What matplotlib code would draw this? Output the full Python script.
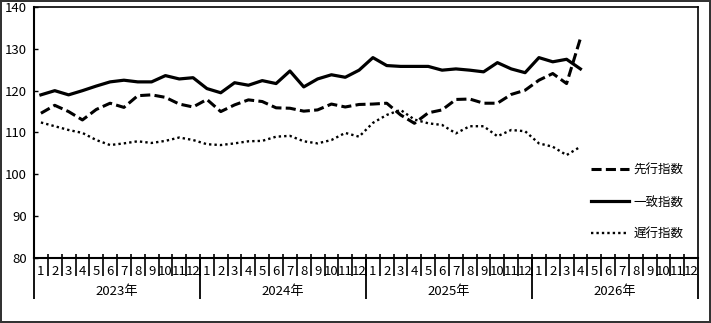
import matplotlib
matplotlib.use("Agg")
import matplotlib.pyplot as plt
import numpy as np

plt.rcParams['font.family'] = ['Liberation Sans Narrow', 'Noto Sans CJK JP', 'DejaVu Sans']

# 2023年1月 ～ 2026年4月
years = ["2023年", "2024年", "2025年", "2026年"]
months = [str(m) for m in range(1, 13)]

leading = [114.6, 116.5, 115.0, 113.0, 115.5, 117.0, 116.0, 118.8, 119.0, 118.4, 116.8, 116.1,
           117.9, 115.0, 116.6, 117.8, 117.4, 115.9, 115.8, 115.1, 115.4, 116.8, 116.1, 116.7,
           116.8, 117.0, 114.2, 112.2, 114.7, 115.4, 117.9, 118.0, 117.0, 117.0, 119.1, 120.1,
           122.5, 124.1, 121.7, 132.5]
coincident = [119.0, 120.0, 119.0, 120.0, 121.1, 122.1, 122.5, 122.1, 122.1, 123.6, 122.8, 123.1,
              120.5, 119.5, 121.9, 121.3, 122.4, 121.7, 124.7, 120.9, 122.8, 123.8, 123.2, 124.9,
              127.9, 126.0, 125.8, 125.8, 125.8, 124.9, 125.2, 124.9, 124.5, 126.7, 125.2, 124.3,
              127.9, 126.9, 127.5, 125.2]
lagging = [112.4, 111.5, 110.6, 109.9, 108.2, 107.0, 107.4, 107.9, 107.5, 108.0, 108.8, 108.2,
           107.2, 107.0, 107.4, 107.9, 108.0, 109.0, 109.2, 107.9, 107.4, 108.2, 109.9, 109.0,
           112.3, 114.2, 115.4, 113.1, 112.2, 111.8, 109.8, 111.5, 111.5, 109.1, 110.6, 110.3,
           107.4, 106.6, 104.6, 106.6]
labels = ["先行指数", "一致指数", "遅行指数"]

n_slots = 12 * len(years)
x = np.arange(len(leading)) + 0.5

fig = plt.figure(figsize=(7.11, 3.23), dpi=100)
fig.patch.set_edgecolor("#333333")
fig.patch.set_linewidth(1.5)
ax = fig.add_axes([34 / 711, 1 - 258 / 323, 664 / 711, 251 / 323])

ax.plot(x, leading, color="black", lw=2.2, linestyle=(0, (3.3, 1.4)), dash_capstyle="butt",
        label=labels[0])
ax.plot(x, coincident, color="black", lw=2.3, label=labels[1])
ax.plot(x, lagging, color="black", lw=1.7, linestyle=(0, (1, 1.3)), dash_capstyle="butt",
        label=labels[2])

ax.set_xlim(0, n_slots)
ax.set_ylim(80, 140)
ax.set_yticks(range(80, 141, 10))
ax.tick_params(axis="y", direction="in", length=3, width=1, labelsize=9.5, pad=5)

# month labels at slot centres, month borders as ticks
ax.set_xticks(np.arange(n_slots) + 0.5)
ax.set_xticklabels(months * len(years), fontsize=9.5)
ax.tick_params(axis="x", length=0, pad=5)
trans = ax.get_xaxis_transform()
ax.vlines(np.arange(1, n_slots), -0.072, 0.016, color="black", lw=1.2, transform=trans,
          clip_on=False)
ax.vlines(np.arange(0, n_slots + 1, 12), -0.163, 0, color="black", lw=1.3, transform=trans,
          clip_on=False)
for k, yr in enumerate(years):
    ax.text(12 * k + 6, -0.134, yr, transform=trans, ha="center", va="center", fontsize=9.5)

for side in ["top", "right"]:
    ax.spines[side].set_linewidth(1.2)
for side in ["left", "bottom"]:
    ax.spines[side].set_linewidth(1.5)

ax.legend(loc="upper left", bbox_to_anchor=(0.83, 0.40), frameon=False, fontsize=9,
          handlelength=3.0, handletextpad=0.4, labelspacing=1.5, borderpad=0)

fig.savefig("out.png", dpi=100)
